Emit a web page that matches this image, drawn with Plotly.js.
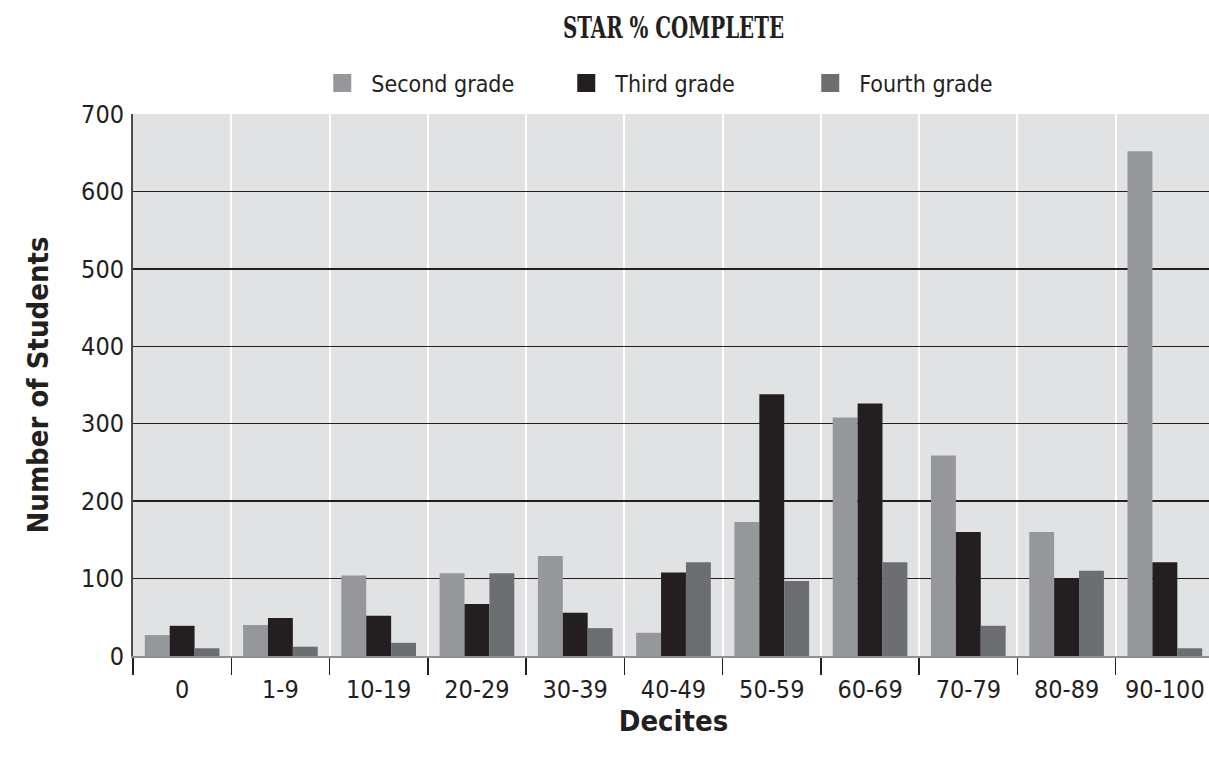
<!DOCTYPE html>
<html>
<head>
<meta charset="utf-8">
<script src="https://cdn.plot.ly/plotly-3.0.1.min.js"></script>
<style>
html,body{margin:0;padding:0;overflow:hidden;background:#fff;}
#chart{width:1215px;height:762px;}
#chart text{font-stretch:condensed;}
</style>
</head>
<body>
<div id="chart"></div>
<script>
var categories = ["0","1-9","10-19","20-29","30-39","40-49","50-59","60-69","70-79","80-89","90-100"];
var secondGrade = [27, 40, 104, 107, 129, 30, 173, 308, 259, 160, 652];
var thirdGrade  = [39, 49, 52, 67, 56, 108, 338, 326, 160, 100, 121];
var fourthGrade = [10, 12, 17, 107, 36, 121, 97, 121, 39, 110, 10];
var yTicks = [0, 100, 200, 300, 400, 500, 600, 700];

var labelFont = "'DejaVu Sans Condensed', 'DejaVu Sans', sans-serif";

var traces = [
  {type:'bar', name:'Second grade', x:categories, y:secondGrade, marker:{color:'#96979a'}},
  {type:'bar', name:'Third grade', x:categories, y:thirdGrade, marker:{color:'#231f20'}},
  {type:'bar', name:'Fourth grade', x:categories, y:fourthGrade, marker:{color:'#6d6e71'}}
];

var layout = {
  width:1215, height:762,
  margin:{l:133, r:1, t:114, b:106},
  paper_bgcolor:'#ffffff',
  plot_bgcolor:'#e1e2e4',
  barmode:'group',
  bargap:0.24,
  bargroupgap:0,
  hovermode:false,
  title:{text:'STAR % COMPLETE', xref:'paper', x:0.5, xanchor:'center', y:0.964, yanchor:'middle',
         font:{family:"'DejaVu Serif Condensed', 'DejaVu Serif', serif", size:29, weight:'bold', color:'#231f20'}},
  showlegend:true,
  legend:{orientation:'h', x:0.1834, xanchor:'left', y:1.057, yanchor:'middle',
          font:{family:labelFont, size:23, color:'#231f20'},
          entrywidth:199, entrywidthmode:'pixels', traceorder:'normal'},
  xaxis:{
    type:'category',
    tickson:'boundaries',
    ticks:'outside', ticklen:17, tickwidth:1.5, tickcolor:'#231f20',
    ticklabelstandoff:10,
    showgrid:true, gridcolor:'#ffffff', gridwidth:2,
    showline:true, linecolor:'#8e8f92', linewidth:2,
    tickfont:{family:labelFont, size:25, color:'#231f20'},
    title:{text:'<b>Decites</b>', standoff:5, font:{family:labelFont, size:29, color:'#231f20'}},
    fixedrange:true
  },
  yaxis:{
    range:[0,700],
    tickvals:yTicks,
    ticktext:yTicks.map(String),
    ticks:'', ticklabelstandoff:2,
    showgrid:true, gridcolor:'#231f20', gridwidth:1.5,
    zeroline:false,
    showline:true, linecolor:'#4d4d4f', linewidth:2,
    tickfont:{family:labelFont, size:25, color:'#231f20'},
    title:{text:'<b>Number of Students</b>', standoff:24, font:{family:labelFont, size:29, color:'#231f20'}},
    fixedrange:true
  }
};

Plotly.newPlot('chart', traces, layout, {displayModeBar:false, staticPlot:true}).then(function(){
  document.querySelectorAll('.legendpoints path').forEach(function(p){
    p.setAttribute('d', 'M0,9H-18V-9H0Z');
  });
  var t = document.querySelector('.gtitle');
  if (t) {
    var bb = t.getBBox();
    var cx = bb.x + bb.width / 2;
    t.setAttribute('transform', 'translate(' + cx + ',0) scale(0.76,1) translate(' + (-cx) + ',0)');
  }
});
</script>
</body>
</html>
